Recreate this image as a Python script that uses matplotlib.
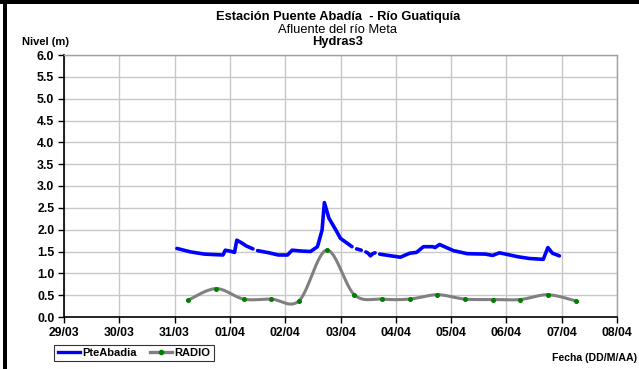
import numpy as np
import matplotlib
matplotlib.use("Agg")
import matplotlib.pyplot as plt
from matplotlib.lines import Line2D
from matplotlib.patches import Rectangle

# ---------------- data ----------------
day_labels = ["29/03", "30/03", "31/03", "01/04", "02/04", "03/04",
              "04/04", "05/04", "06/04", "07/04", "08/04"]

# PteAbadia: hours since 29/03 00:00, level (m); NaN = missing reading
pte_hours = [49, 55, 61, 69, 70, 72, 74, 75, 77, 79, 82, 83,
             84, 89, 93, 97, 99, 103, 107, 110, 112, 113, 115, 118, 120, 125, 126,
             127, 129, 130,
             131, 132, 133, 134, 135, 136,
             137, 142, 146, 150, 153, 156, 160, 161, 163, 169, 175, 183, 186,
             189, 197, 202, 208, 210, 212, 215]
pte_level = [1.57, 1.49, 1.44, 1.42, 1.53, 1.51, 1.48, 1.76, 1.70, 1.63, 1.56, np.nan,
             1.52, 1.47, 1.42, 1.42, 1.53, 1.51, 1.50, 1.61, 1.99, 2.62, 2.26, 1.99, 1.80, 1.61, np.nan,
             1.56, 1.53, np.nan,
             1.49, 1.46, 1.40, 1.45, 1.47, np.nan,
             1.44, 1.40, 1.37, 1.46, 1.48, 1.61, 1.61, 1.59, 1.66, 1.52, 1.45, 1.44, 1.41,
             1.47, 1.38, 1.34, 1.32, 1.59, 1.46, 1.40]

# RADIO: hours since 29/03 00:00, level (m)
radio_hours = [54, 66, 78, 90, 102, 114, 126, 138, 150, 162, 174, 186, 198, 210, 222]
radio_level = [0.39, 0.65, 0.41, 0.41, 0.37, 1.53, 0.51, 0.41, 0.41, 0.51,
               0.41, 0.40, 0.40, 0.51, 0.37]

title_lines = ["Estación Puente Abadía  - Río Guatiquía", "Afluente del río Meta", "Hydras3"]


def smooth(x, y, n=30):
    """Excel-like smoothed line (Catmull-Rom / Bezier with 1/6 tension)."""
    x = np.asarray(x, float)
    y = np.asarray(y, float)
    P = np.column_stack([x, y])
    out = []
    t = np.linspace(0, 1, n)
    for i in range(len(P) - 1):
        p0 = P[i]
        p3 = P[i + 1]
        pm = P[i - 1] if i > 0 else P[i]
        pp = P[i + 2] if i + 2 < len(P) else P[i + 1]
        c1 = p0 + (p3 - pm) / 6.0
        c2 = p3 - (pp - p0) / 6.0
        seg = ((1 - t)[:, None] ** 3 * p0 + 3 * ((1 - t) ** 2 * t)[:, None] * c1
               + 3 * ((1 - t) * t ** 2)[:, None] * c2 + (t ** 3)[:, None] * p3)
        out.append(seg if i == 0 else seg[1:])
    s = np.vstack(out)
    return s[:, 0], s[:, 1]


plt.rcParams['font.family'] = ['Liberation Sans', 'DejaVu Sans']

W, H = 639, 369
fig = plt.figure(figsize=(W / 100, H / 100), dpi=100)
ax = fig.add_axes([64 / W, 1 - 317 / H, (617 - 64) / W, (317 - 55) / H])

pte_x = np.array(pte_hours) / 24.0
radio_x = np.array(radio_hours) / 24.0

ax.plot(pte_x, pte_level, color="#0000FF", lw=2.6, solid_capstyle="round", zorder=3)
sx, sy = smooth(radio_x, radio_level)
ax.plot(sx, sy, color="#808080", lw=2.2, zorder=2)
ax.plot(radio_x, radio_level, ls="none", marker="o", ms=2.6, color="#008000",
        mec="#008000", zorder=4)

ax.set_xlim(0, 10)
ax.set_ylim(0, 6)
ax.set_xticks(range(len(day_labels)))
ax.set_xticklabels(day_labels)
ax.set_yticks(np.arange(0, 6.01, 0.5))
ax.set_yticklabels([f"{v:.1f}" for v in np.arange(0, 6.01, 0.5)])
ax.grid(True, color="#C8C8C8", lw=1.0)
ax.set_axisbelow(True)
for s in ("top", "right"):
    ax.spines[s].set_color("#A0A0A0")
    ax.spines[s].set_linewidth(1.0)
for s in ("left", "bottom"):
    ax.spines[s].set_color("black")
    ax.spines[s].set_linewidth(1.2)
ax.tick_params(axis="both", direction="out", length=4, width=1, color="black",
               labelsize=8.8, pad=3)
for lab in ax.get_xticklabels() + ax.get_yticklabels():
    lab.set_fontweight("bold")

# titles
fig.text(338 / W, 1 - 17 / H, title_lines[0], ha="center", va="center",
         fontsize=9.3, fontweight="bold")
fig.text(338 / W, 1 - 30 / H, title_lines[1], ha="center", va="center", fontsize=9.3)
fig.text(338 / W, 1 - 42 / H, title_lines[2], ha="center", va="center",
         fontsize=9.3, fontweight="bold")
fig.text(22 / W, 1 - 42 / H, "Nivel (m)", ha="left", va="center",
         fontsize=8, fontweight="bold")
fig.text(637 / W, 1 - 358 / H, "Fecha (DD/M/AA)", ha="right", va="center",
         fontsize=7.6, fontweight="bold")

# legend
handles = [Line2D([], [], color="#0000FF", lw=2.4),
           Line2D([], [], color="#808080", lw=2.4, marker="o", ms=3,
                  mfc="#008000", mec="#008000")]
leg = fig.legend(handles, ["PteAbadia", "RADIO"], loc="center",
                 bbox_to_anchor=(134 / W, 1 - 353 / H), ncol=2, frameon=True,
                 fancybox=False, edgecolor="black",
                 handlelength=2.0, handletextpad=0.2, columnspacing=1.2,
                 borderpad=0.3, prop={"weight": "bold", "size": 8})
leg.get_frame().set_linewidth(0.8)

# outer border (top and left thick black)
fig.add_artist(Rectangle((0, 1 - 4 / H), 1, 4 / H, transform=fig.transFigure,
                         color="black", lw=0))
fig.add_artist(Rectangle((3 / W, 0), 4 / W, 1, transform=fig.transFigure,
                         color="black", lw=0))

fig.savefig("out.png", dpi=100)
